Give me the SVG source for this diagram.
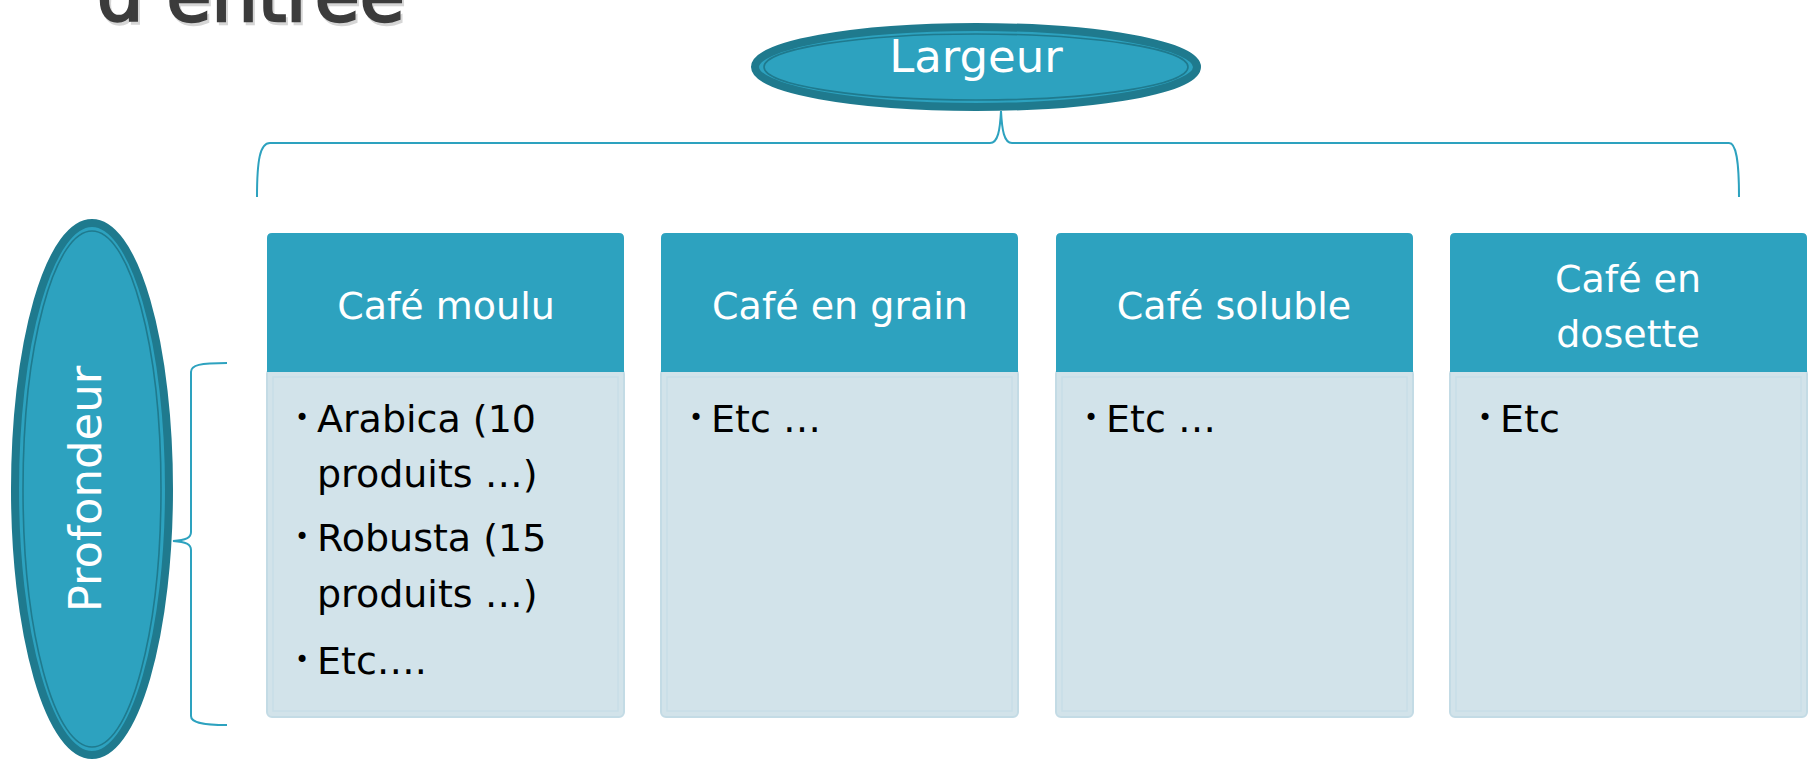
<svg xmlns="http://www.w3.org/2000/svg" width="1813" height="760" viewBox="0 0 1813 760">
<defs>
<style>
.hdr{fill:#2DA2BF}
.body{fill:#D2E3EA;stroke:#C3DBE5;stroke-width:2}
.inner{fill:none;stroke:#C8DEE7;stroke-width:1.5}
.ht{font-family:"DejaVu Sans",sans-serif;font-size:38px;fill:#FFFFFF;text-anchor:middle}
.bt{font-family:"DejaVu Sans",sans-serif;font-size:38px;fill:#000000}
.bul{font-family:"DejaVu Sans",sans-serif;font-size:24px;fill:#000000}
.ell{fill:#2DA2BF;stroke:#1F7A8E;stroke-width:8}
.ell2{fill:none;stroke:#1F7A8E;stroke-width:1.6}
.brace{fill:none;stroke:#2DA2BF;stroke-width:2}
.title{font-family:"DejaVu Sans",sans-serif;font-size:73px}
</style>
</defs>
<rect width="1813" height="760" fill="#FFFFFF"/>
<text class="title" x="99" y="24" fill="#BBBBBB" stroke="#BBBBBB" stroke-width="2.5" opacity="0.6">d’entrée</text>
<text class="title" x="97" y="21" fill="#3C3C3C" stroke="#3C3C3C" stroke-width="2.5">d’entrée</text>

<g id="connectors">
<path class="brace" d="M257 197 C257 160 260 143 270 143 L990 143 C998 143 1000 130 1001 111 C1002 130 1004 143 1012 143 L1729 143 C1736 143 1739 160 1739 197"/>
<path class="brace" d="M227 363 C200 363 191 365 191 372 L191 532 C191 538 186 540 173 541 C186 542 191 544 191 550 L191 716 C191 722 200 725 227 725"/>
</g>

<g id="largeur">
<ellipse class="ell" cx="976" cy="67" rx="221" ry="40"/>
<ellipse class="ell2" cx="976" cy="67" rx="212" ry="33"/>
<text x="976" y="72" font-family="DejaVu Sans,sans-serif" font-size="45" fill="#FFFFFF" text-anchor="middle">Largeur</text>
</g>

<g id="profondeur">
<ellipse class="ell" cx="92" cy="489" rx="77" ry="266"/>
<ellipse class="ell2" cx="92" cy="489" rx="69" ry="258"/>
<text transform="translate(101 489) rotate(-90)" font-family="DejaVu Sans,sans-serif" font-size="45" fill="#FFFFFF" text-anchor="middle">Profondeur</text>
</g>

<g id="box1">
<rect class="body" x="267" y="369" width="357" height="348" rx="5"/>
<rect class="inner" x="273" y="377" width="345" height="334"/>
<path class="hdr" d="M267 372 V238 Q267 233 272 233 H619 Q624 233 624 238 V372 Z"/>
<text class="ht" x="446" y="319">Café moulu</text>
<text class="bul" x="295" y="426">•</text>
<text class="bt" x="317" y="432">Arabica (10</text>
<text class="bt" x="317" y="487">produits …)</text>
<text class="bul" x="295" y="545">•</text>
<text class="bt" x="317" y="551">Robusta (15</text>
<text class="bt" x="317" y="607">produits …)</text>
<text class="bul" x="295" y="668">•</text>
<text class="bt" x="317" y="674">Etc….</text>
</g>

<g id="box2">
<rect class="body" x="661" y="369" width="357" height="348" rx="5"/>
<rect class="inner" x="667" y="377" width="345" height="334"/>
<path class="hdr" d="M661 372 V238 Q661 233 666 233 H1013 Q1018 233 1018 238 V372 Z"/>
<text class="ht" x="840" y="319">Café en grain</text>
<text class="bul" x="689" y="426">•</text>
<text class="bt" x="711" y="432">Etc …</text>
</g>

<g id="box3">
<rect class="body" x="1056" y="369" width="357" height="348" rx="5"/>
<rect class="inner" x="1062" y="377" width="345" height="334"/>
<path class="hdr" d="M1056 372 V238 Q1056 233 1061 233 H1408 Q1413 233 1413 238 V372 Z"/>
<text class="ht" x="1234" y="319">Café soluble</text>
<text class="bul" x="1084" y="426">•</text>
<text class="bt" x="1106" y="432">Etc …</text>
</g>

<g id="box4">
<rect class="body" x="1450" y="369" width="357" height="348" rx="5"/>
<rect class="inner" x="1456" y="377" width="345" height="334"/>
<path class="hdr" d="M1450 372 V238 Q1450 233 1455 233 H1802 Q1807 233 1807 238 V372 Z"/>
<text class="ht" x="1628" y="292">Café en</text>
<text class="ht" x="1628" y="347">dosette</text>
<text class="bul" x="1478" y="426">•</text>
<text class="bt" x="1500" y="432">Etc</text>
</g>
</svg>
